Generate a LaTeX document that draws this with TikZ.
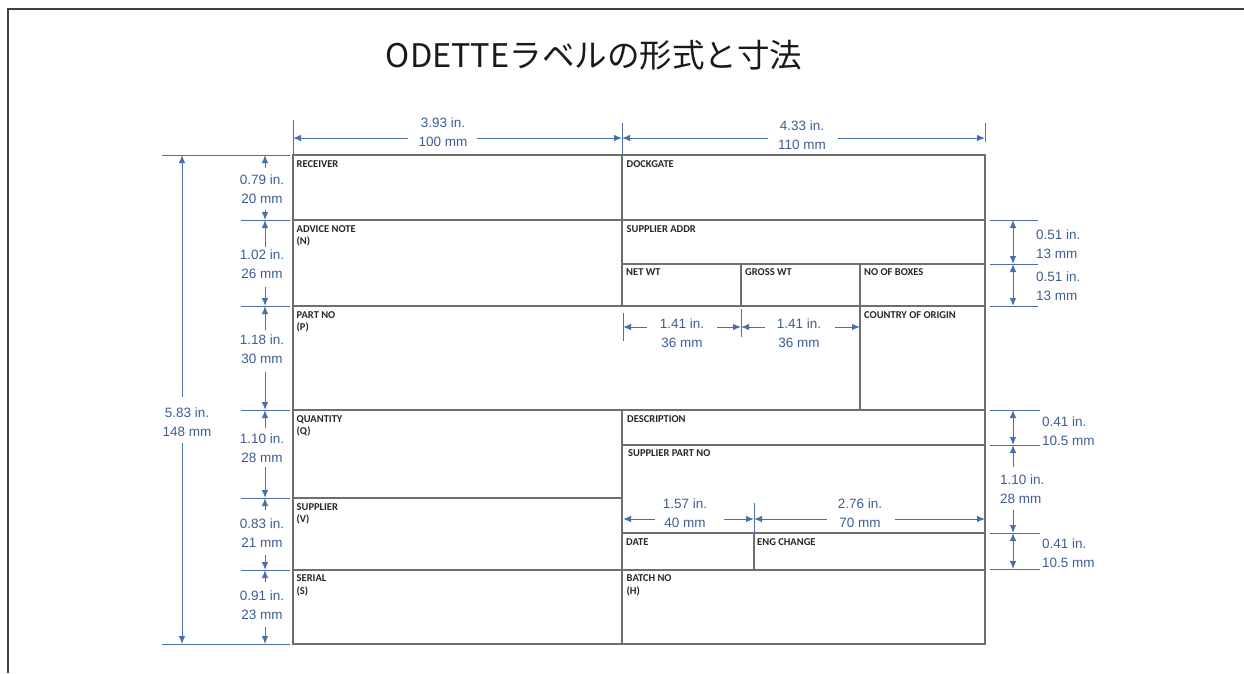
\documentclass[tikz,border=0pt]{standalone}
\usepackage{fontspec}
\setmainfont{Liberation Sans}
\newfontfamily\lblfont{Carlito}
\newfontfamily\cjkfont{Noto Sans CJK JP}
\usetikzlibrary{arrows.meta}
\definecolor{dimblue}{RGB}{74,110,172}
\definecolor{dimtext}{RGB}{62,92,150}
\definecolor{cellgray}{RGB}{110,110,110}
\begin{document}
\begin{tikzpicture}[x=1pt,y=-1pt,
 cell/.style={draw=cellgray,line width=1.4pt},
 lbl/.style={anchor=north west,inner sep=0pt,font=\lblfont\bfseries\fontsize{10.5}{12.5}\selectfont,align=left,text=black!85},
 dimline/.style={draw=dimblue,line width=1pt},
 dimarr/.style={dimline,-{Latex[length=8pt,width=6.5pt]}},
 dimboth/.style={dimline,{Latex[length=8pt,width=6.5pt]}-{Latex[length=8pt,width=6.5pt]}},
 dimtxt/.style={text=dimtext,font=\fontsize{13.5}{19}\selectfont,inner sep=0pt,align=center},
 dimtxtl/.style={dimtxt,align=left,anchor=west},
]
\useasboundingbox (0,0) rectangle (1244,673);
% frame
\draw[line width=2pt,draw=black!75] (8,673)--(8,9)--(1244,9);
% title
\node[font=\cjkfont\fontsize{32.5}{34}\selectfont,text=black!90,inner sep=0pt] (title) at (594,55) {ODETTEラベルの形式と寸法};

% label grid
\draw[cell] (293,155) rectangle (985,644);
\draw[cell] (622,155)--(622,306) (622,410)--(622,644);
\draw[cell] (293,220)--(985,220) (622,264)--(985,264) (293,306)--(985,306)
  (293,410)--(985,410) (622,445)--(985,445) (293,498)--(622,498)
  (622,533)--(985,533) (293,570)--(985,570);
\draw[cell] (741,264)--(741,306) (860,264)--(860,410) (754,533)--(754,570);

% cell labels
\node[lbl] (receiver) at (296.5,160) {RECEIVER};
\node[lbl] (dockgate) at (626.5,160) {DOCKGATE};
\node[lbl] (advice) at (296.5,225) {ADVICE NOTE\\(N)};
\node[lbl] (suppaddr) at (626.5,225) {SUPPLIER ADDR};
\node[lbl] (netwt) at (626,268.5) {NET WT};
\node[lbl] (grosswt) at (745,268.5) {GROSS WT};
\node[lbl] (boxes) at (864,268.5) {NO OF BOXES};
\node[lbl] (partno) at (296.5,311) {PART NO\\(P)};
\node[lbl] (origin) at (864,311) {COUNTRY OF ORIGIN};
\node[lbl] (quantity) at (296.5,415) {QUANTITY\\(Q)};
\node[lbl] (descr) at (627,415) {DESCRIPTION};
\node[lbl] (supppart) at (628,449.5) {SUPPLIER PART NO};
\node[lbl] (supplier) at (296.5,503) {SUPPLIER\\(V)};
\node[lbl] (date) at (626,538) {DATE};
\node[lbl] (engchange) at (757,538) {ENG CHANGE};
\node[lbl] (serial) at (296.5,574.5) {SERIAL\\(S)};
\node[lbl] (batch) at (626.5,574.5) {BATCH NO\\(H)};

% top dimensions
\draw[dimline] (293,120)--(293,155) (622,123)--(622,155) (985,123)--(985,142);
\draw[dimarr] (408,138)--(293,138);
\draw[dimarr] (477,138)--(622,138);
\node[dimtxt] (dA) at (443,132.5) {3.93 in.\\100 mm};
\draw[dimarr] (768,138)--(622,138);
\draw[dimarr] (838,138)--(985,138);
\node[dimtxt] (dB) at (802,135) {4.33 in.\\110 mm};

% left overall dimension
\draw[dimline] (162,155)--(290,155) (162,644)--(290,644);
\draw[dimarr] (182,397)--(182,155);
\draw[dimarr] (182,443)--(182,644);
\node[dimtxt] (dTot) at (187,422.5) {5.83 in.\\148 mm};

% left column dimensions
\draw[dimline] (241,220)--(290,220) (241,306)--(290,306) (241,410)--(290,410)
  (241,498)--(290,498) (241,570)--(290,570);
\draw[dimarr] (265,168)--(265,155);
\draw[dimarr] (265,210)--(265,220);
\node[dimtxt] (d1) at (262,189.5) {0.79 in.\\20 mm};
\draw[dimarr] (265,247)--(265,220);
\draw[dimarr] (265,287)--(265,306);
\node[dimtxt] (d2) at (262,264.5) {1.02 in.\\26 mm};
\draw[dimarr] (265,330)--(265,306);
\draw[dimarr] (265,372)--(265,410);
\node[dimtxt] (d3) at (262,349) {1.18 in.\\30 mm};
\draw[dimarr] (265,428)--(265,410);
\draw[dimarr] (265,467)--(265,498);
\node[dimtxt] (d4) at (262,448) {1.10 in.\\28 mm};
\draw[dimarr] (265,510)--(265,498);
\draw[dimarr] (265,555)--(265,570);
\node[dimtxt] (d5) at (262,533) {0.83 in.\\21 mm};
\draw[dimarr] (265,582)--(265,570);
\draw[dimarr] (265,627)--(265,644);
\node[dimtxt] (d6) at (262,605.5) {0.91 in.\\23 mm};

% right dimensions
\draw[dimline] (990,220)--(1038,220) (990,264)--(1038,264) (990,306)--(1038,306);
\draw[dimboth] (1013,220)--(1013,264);
\draw[dimboth] (1013,264)--(1013,306);
\node[dimtxtl] (r1) at (1036,244.5) {0.51 in.\\13 mm};
\node[dimtxtl] (r2) at (1036,286) {0.51 in.\\13 mm};
\draw[dimline] (990,410)--(1040,410) (990,445)--(1040,445) (990,533)--(1040,533) (990,569)--(1040,569);
\draw[dimboth] (1013,410)--(1013,445);
\node[dimtxtl] (r3) at (1042,431.5) {0.41 in.\\10.5 mm};
\draw[dimarr] (1013,467)--(1013,445);
\draw[dimarr] (1013,510)--(1013,533);
\node[dimtxtl] (r4) at (1000,489) {1.10 in.\\28 mm};
\draw[dimboth] (1013,533)--(1013,569);
\node[dimtxtl] (r5) at (1042,553) {0.41 in.\\10.5 mm};

% middle dimensions (part no row)
\draw[dimline] (623,313)--(623,341) (741,309)--(741,337);
\draw[dimarr] (647,327)--(623,327);
\draw[dimarr] (717,327)--(741,327);
\node[dimtxt] (m1) at (682,333.5) {1.41 in.\\36 mm};
\draw[dimarr] (765,327)--(741,327);
\draw[dimarr] (835,327)--(860,327);
\node[dimtxt] (m2) at (799,333.5) {1.41 in.\\36 mm};

% middle dimensions (supplier part no)
\draw[dimline] (754,503)--(754,532);
\draw[dimarr] (655,519)--(623,519);
\draw[dimarr] (724,519)--(754,519);
\node[dimtxt] (m3) at (685,513.5) {1.57 in.\\40 mm};
\draw[dimarr] (827,519)--(754,519);
\draw[dimarr] (895,519)--(985,519);
\node[dimtxt] (m4) at (860,513.5) {2.76 in.\\70 mm};
\end{tikzpicture}
\end{document}
